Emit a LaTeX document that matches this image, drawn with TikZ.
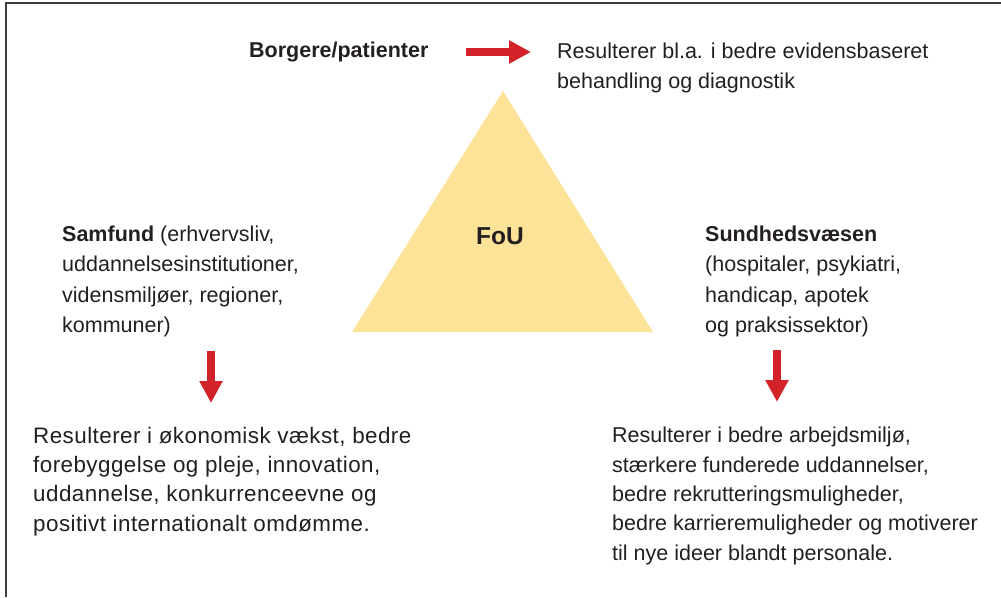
\documentclass[tikz,border=0pt]{standalone}
\usepackage{fontspec}
\setmainfont{Liberation Sans}
\newfontfamily\spacedfont[LetterSpace=2]{Liberation Sans}
\usetikzlibrary{positioning, arrows.meta}

\definecolor{fouyellow}{RGB}{252,227,152}
\definecolor{foured}{RGB}{210,35,42}
\definecolor{foutext}{RGB}{35,31,32}
\definecolor{fouframe}{RGB}{60,60,60}

\begin{document}
\begin{tikzpicture}[
    x=1pt, y=-1pt,
    every node/.style={
        inner sep=0pt,
        anchor=base west,
        align=left,
        text=foutext,
        font=\fontsize{21.5}{29.3}\selectfont
    },
    midtext/.style={font=\fontsize{21.5}{30.5}\selectfont},
    widetext/.style={font=\spacedfont\fontsize{22.4}{29.3}\selectfont},
    arrow/.style={draw=foured, line width=8pt, -{Triangle[width=22pt, length=22pt]}}
]
    \useasboundingbox (0,0) rectangle (1001,597);
    \draw[fouframe, line width=2.5pt] (6,597) -- (6,3) -- (1001,3);

    \fill[fouyellow] (503,91) -- (653,332) -- (352,332) -- cycle;
    \node (fou) [anchor=center, font=\fontsize{24.5}{29}\selectfont\bfseries] at (500,236) {FoU};

    % base anchor sits on the last line
    \node (borgere) at (249,57) {\bfseries Borgere/patienter};
    \node (evidens) at (557,88) {Resulterer bl.a. i bedre evidensbaseret\\behandling og diagnostik};
    \node (samfund) [midtext] at (62,332.5) {\textbf{Samfund} (erhvervsliv,\\uddannelsesinstitutioner,\\vidensmiljøer, regioner,\\kommuner)};
    \node (sundhed) [midtext] at (705,332.5) {\textbf{Sundhedsvæsen}\\(hospitaler, psykiatri,\\handicap, apotek\\og praksissektor)};
    \node (vaekst) [widetext] at (33,531) {Resulterer i økonomisk vækst, bedre\\forebyggelse og pleje, innovation,\\uddannelse, konkurrenceevne og\\positivt internationalt omdømme.};
    \node (miljo) at (612,560) {Resulterer i bedre arbejdsmiljø,\\stærkere funderede uddannelser,\\bedre rekrutteringsmuligheder,\\bedre karrieremuligheder og motiverer\\til nye ideer blandt personale.};

    \coordinate (top start) at (466,52);
    \coordinate (top end) at (531,52);
    \coordinate (left start) at (211,351);
    \coordinate (left end) at (211,403);
    \coordinate (right start) at (777,350);
    \coordinate (right end) at (777,402);

    \draw[arrow] (top start) -- (top end);
    \draw[arrow] (left start) -- (left end);
    \draw[arrow] (right start) -- (right end);

\end{tikzpicture}
\end{document}
